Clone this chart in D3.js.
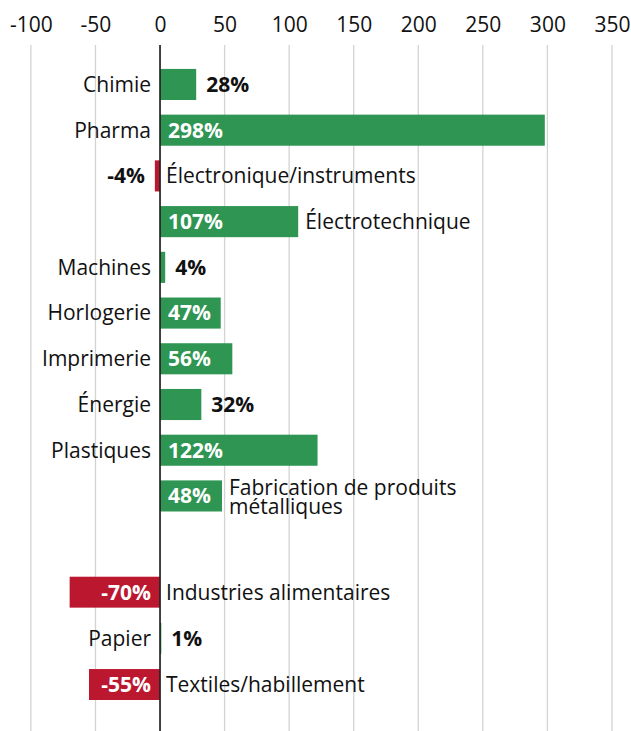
<!DOCTYPE html>
<html>
<head>
<meta charset="utf-8">
<script src="https://cdn.jsdelivr.net/npm/d3@7"></script>
<style>
  html, body { margin: 0; padding: 0; background: #fff; }
  svg { display: block; font-family: "Open Sans", "Noto Sans", sans-serif; }
</style>
</head>
<body>
<svg id="chart" width="631" height="731"></svg>
<script>
// Sectors, in display order; "\n" marks a manual line break in a label
const categories = [
  "Chimie", "Pharma", "Électronique/instruments", "Électrotechnique", "Machines",
  "Horlogerie", "Imprimerie", "Énergie", "Plastiques", "Fabrication de produits\nmétalliques",
  "Industries alimentaires", "Papier", "Textiles/habillement"
];
// Change in percent
const values = [28, 298, -4, 107, 4, 47, 56, 32, 122, 48, -70, 1, -55];
// Block each sector belongs to (the second block is set apart by a gap)
const groups = [1, 1, 1, 1, 1, 1, 1, 1, 1, 1, 2, 2, 2];
const tickValues = [-100, -50, 0, 50, 100, 150, 200, 250, 300, 350];

const W = 631, H = 731;
const fontSize = 21;
const green = "#2e9552", red = "#bb1830", ink = "#111";

const rows = categories.map((c, i) => ({ name: c, value: values[i], group: groups[i], id: i }));

const svg = d3.select("#chart");

const x = d3.scaleLinear().domain([-100, 350]).range([30.9, 611.95]);

// one band scale per block of rows
const g1 = rows.filter(d => d.group === 1).map(d => d.id);
const g2 = rows.filter(d => d.group === 2).map(d => d.id);
const y1 = d3.scaleBand().domain(g1).range([61.6, 518.8]).paddingInner(0.32).paddingOuter(0.16);
const y2 = d3.scaleBand().domain(g2).range([569.1, 707.6]).paddingInner(0.33).paddingOuter(0.165);
const yScale = d => (d.group === 1 ? y1 : y2);
const yTop = d => yScale(d)(d.id);
const bw = d => yScale(d).bandwidth();
const yMid = d => yTop(d) + bw(d) / 2;

const gridTop = 45;

// vertical gridlines
svg.append("g")
  .selectAll("line")
  .data(tickValues.filter(t => t !== 0))
  .join("line")
  .attr("x1", d => x(d)).attr("x2", d => x(d))
  .attr("y1", gridTop).attr("y2", H)
  .attr("stroke", "#d3d3d3")
  .attr("stroke-width", 1.3);

// top axis with labels only
const axis = svg.append("g")
  .attr("transform", "translate(0,38)")
  .call(d3.axisTop(x).tickValues(tickValues).tickSize(0).tickPadding(6).tickFormat(d => String(d)));
axis.select(".domain").remove();
axis.selectAll("text")
  .attr("font-size", fontSize)
  .attr("font-family", "'Open Sans', 'Noto Sans', sans-serif")
  .attr("fill", ink);

// bars
svg.append("g")
  .selectAll("rect")
  .data(rows)
  .join("rect")
  .attr("x", d => Math.min(x(0), x(d.value)))
  .attr("width", d => Math.abs(x(d.value) - x(0)))
  .attr("y", d => yTop(d))
  .attr("height", d => bw(d))
  .attr("fill", d => d.value >= 0 ? green : red);

// zero line
svg.append("line")
  .attr("x1", x(0)).attr("x2", x(0))
  .attr("y1", gridTop).attr("y2", H)
  .attr("stroke", "#222")
  .attr("stroke-width", 1.7);

const labels = svg.append("g").attr("font-size", fontSize).attr("fill", ink);

// measure text widths
function textWidth(str, weight) {
  const t = labels.append("text").attr("font-weight", weight).text(str);
  const w = t.node().getComputedTextLength();
  t.remove();
  return w;
}

const fmt = v => `${v}%`;
const padIn = 8, padOut = 10, padCat = 9, lineH = 0.92;

rows.forEach(d => {
  const x0 = x(0), xv = x(d.value);
  const barW = Math.abs(xv - x0);
  const cy = yMid(d);
  const vText = fmt(d.value);
  const vW = textWidth(vText, "bold");
  const inside = barW >= vW + 2 * padIn;

  // value label
  const vl = labels.append("text")
    .attr("font-weight", "bold")
    .attr("y", cy).attr("dy", "0.35em")
    .text(vText);
  if (d.value >= 0) {
    if (inside) vl.attr("x", x0 + padIn).attr("fill", "#fff");
    else vl.attr("x", xv + padOut).attr("fill", ink);
  } else {
    vl.attr("text-anchor", "end");
    if (inside) vl.attr("x", x0 - padIn - 1).attr("fill", "#fff");
    else vl.attr("x", xv - padOut).attr("fill", ink);
  }

  // category label: left of the axis when it fits, otherwise after the bar
  const lines = d.name.split("\n");
  const catW = d3.max(lines, l => textWidth(l, "normal"));
  let cx, anchor;
  if (d.value < 0) {
    cx = x0 + 6; anchor = "start";
  } else if (lines.length === 1 && catW <= x0 - padCat) {
    cx = x0 - padCat; anchor = "end";
  } else {
    cx = xv + 7; anchor = "start";
  }
  const ct = labels.append("text")
    .attr("text-anchor", anchor)
    .attr("x", cx)
    .attr("y", cy);
  const firstDy = lines.length === 1 ? 0.35 : -0.05;
  lines.forEach((l, i) => {
    ct.append("tspan")
      .attr("x", cx)
      .attr("dy", i === 0 ? `${firstDy}em` : `${lineH}em`)
      .text(l);
  });
});
</script>
</body>
</html>
